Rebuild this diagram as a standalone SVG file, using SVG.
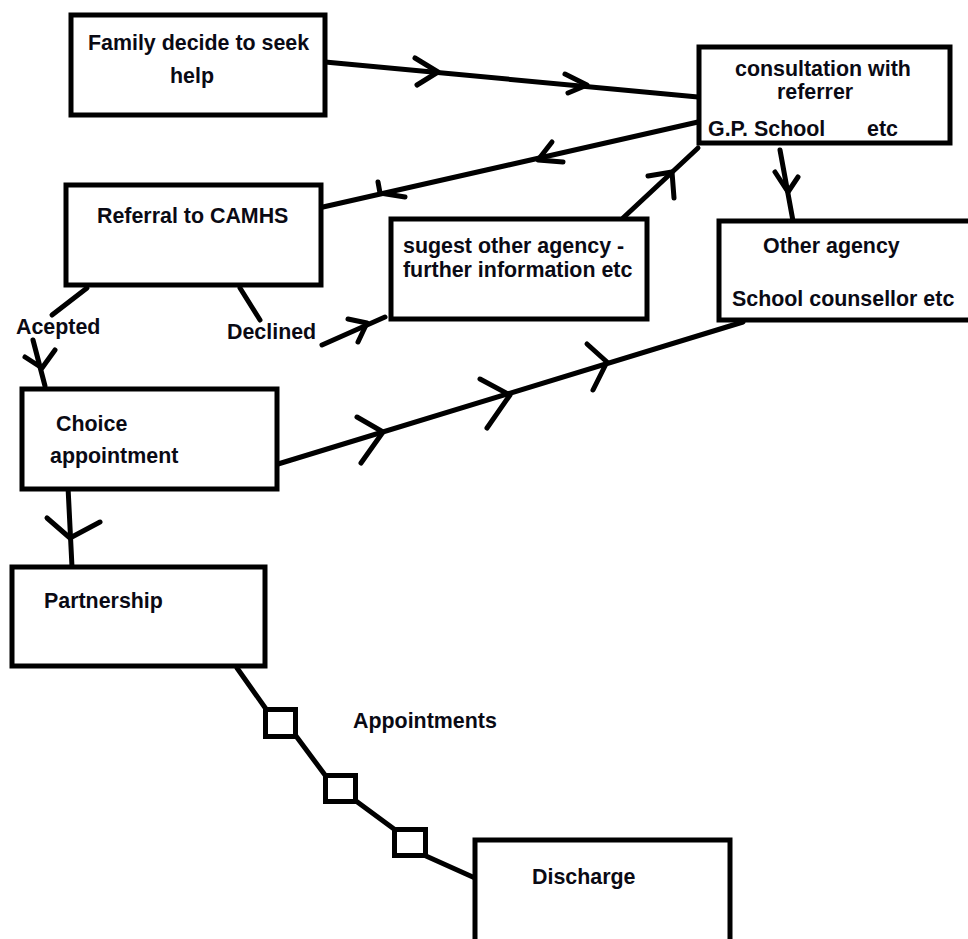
<svg xmlns="http://www.w3.org/2000/svg" width="968" height="939" viewBox="0 0 968 939">
<style>
.box{fill:#fff;stroke:#000;stroke-width:5}
.ln{fill:none;stroke:#000;stroke-width:5;stroke-linecap:round;stroke-linejoin:round}
.sq{fill:#fff;stroke:#000;stroke-width:5}
text{font-family:"Liberation Sans",Arial,sans-serif;font-weight:bold;font-size:21.4px;fill:#0a0a14}
</style>
<rect width="968" height="939" fill="#fff"/>
<g id="connectors">
  <line class="ln" x1="325" y1="62" x2="698" y2="97"/>
  <polyline class="ln" points="415,58 438,72 417,85"/>
  <polyline class="ln" points="565,74 587,85 568,93"/>
  <line class="ln" x1="698" y1="122" x2="323" y2="207"/>
  <polyline class="ln" points="552,142 538,160 563,162"/>
  <polyline class="ln" points="378,182 380,193 405,197"/>
  <line class="ln" x1="623" y1="218" x2="698" y2="148"/>
  <polyline class="ln" points="648,176 672,172 674,198"/>
  <line class="ln" x1="780" y1="150" x2="793" y2="221"/>
  <polyline class="ln" points="775,172 788,192 798,177"/>
  <line class="ln" x1="87" y1="288" x2="52" y2="315"/>
  <line class="ln" x1="33" y1="340" x2="45" y2="386"/>
  <polyline class="ln" points="25,357 42,368 55,350"/>
  <line class="ln" x1="240" y1="288" x2="260" y2="320"/>
  <line class="ln" x1="322" y1="345" x2="385" y2="317"/>
  <polyline class="ln" points="348,319 367,323 358,342"/>
  <line class="ln" x1="278" y1="464" x2="743" y2="322"/>
  <polyline class="ln" points="357,417 383,432 361,463"/>
  <polyline class="ln" points="480,379 510,395 487,428"/>
  <polyline class="ln" points="587,344 607,362 593,390"/>
  <line class="ln" x1="68" y1="487" x2="72" y2="567"/>
  <polyline class="ln" points="47,518 70,538 100,522"/>
  <line class="ln" x1="237" y1="668" x2="266" y2="709"/>
  <line class="ln" x1="296" y1="736" x2="325" y2="775"/>
  <line class="ln" x1="356" y1="801" x2="394" y2="829"/>
  <line class="ln" x1="426" y1="856" x2="475" y2="878"/>
</g>
<g id="appointments">
  <rect class="sq" x="265.5" y="709.5" width="30" height="27"/>
  <rect class="sq" x="325.5" y="775.5" width="30" height="26"/>
  <rect class="sq" x="394.5" y="829.5" width="31" height="26"/>
  <text x="353" y="728">Appointments</text>
</g>
<g id="family">
  <rect class="box" x="71" y="15" width="254" height="100"/>
  <text x="88" y="50">Family decide to seek</text>
  <text x="170" y="83">help</text>
</g>
<g id="consultation">
  <rect class="box" x="699" y="47" width="251" height="96"/>
  <text x="735" y="76">consultation with</text>
  <text x="777" y="99">referrer</text>
  <text x="708" y="136">G.P. School</text>
  <text x="867" y="136">etc</text>
</g>
<g id="referral">
  <rect class="box" x="66" y="185" width="255" height="100"/>
  <text x="97" y="223">Referral to CAMHS</text>
</g>
<g id="suggest">
  <rect class="box" x="391" y="219" width="256" height="100"/>
  <text x="403" y="253">sugest other agency -</text>
  <text x="403" y="277">further information etc</text>
</g>
<g id="other-agency">
  <rect class="box" x="719" y="221" width="255" height="99"/>
  <text x="763" y="253">Other agency</text>
  <text x="732" y="306">School counsellor etc</text>
</g>
<g id="labels">
  <text x="16" y="334">Acepted</text>
  <text x="227" y="339">Declined</text>
</g>
<g id="choice">
  <rect class="box" x="22" y="389" width="255" height="100"/>
  <text x="56" y="431">Choice</text>
  <text x="50" y="463">appointment</text>
</g>
<g id="partnership">
  <rect class="box" x="12" y="567" width="253" height="99"/>
  <text x="44" y="608">Partnership</text>
</g>
<g id="discharge">
  <rect class="box" x="475" y="840" width="255" height="110"/>
  <text x="532" y="884">Discharge</text>
</g>
</svg>
